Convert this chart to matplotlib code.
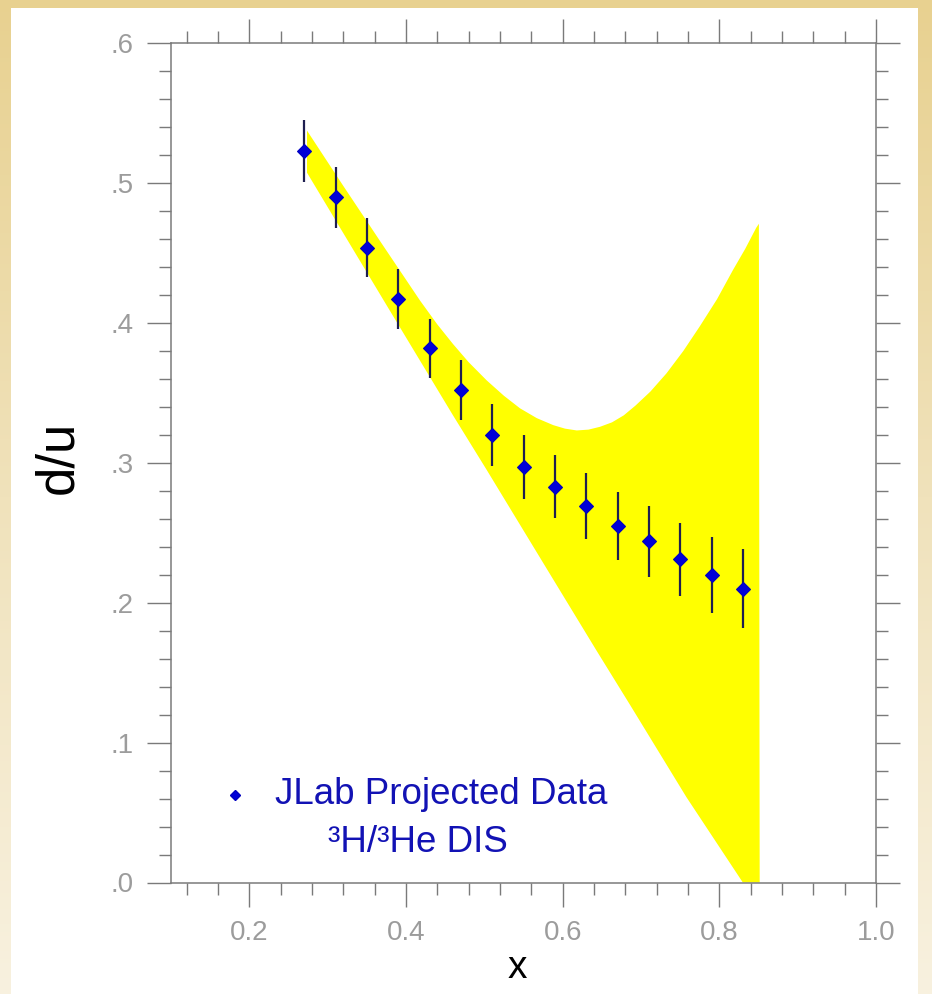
import numpy as np
import matplotlib
matplotlib.use("Agg")
import matplotlib.pyplot as plt
from matplotlib.colors import LinearSegmentedColormap
from matplotlib.patches import Rectangle
from matplotlib.ticker import MultipleLocator

plt.rcParams['font.family'] = ['Liberation Sans', 'DejaVu Sans']

# ---- data ----
x_data = [0.27, 0.31, 0.35, 0.39, 0.43, 0.47, 0.51, 0.55, 0.59, 0.63, 0.67, 0.71, 0.75, 0.79, 0.83]
y_data = [0.523, 0.490, 0.454, 0.417, 0.382, 0.352, 0.320, 0.297, 0.283, 0.269, 0.255, 0.244, 0.231, 0.220, 0.210]
y_err = [0.0224, 0.0218, 0.0213, 0.0215, 0.0212, 0.0213, 0.0222, 0.0226, 0.0227, 0.0236, 0.0245, 0.0253, 0.0261, 0.0270, 0.0283]

# band (yellow) upper and lower edges
band_up_x = [0.2736, 0.32, 0.37, 0.418, 0.44, 0.460, 0.48, 0.503, 0.525, 0.5456, 0.567, 0.588,
             0.603, 0.618, 0.633, 0.6476, 0.663, 0.678, 0.693, 0.712, 0.7325, 0.754, 0.775,
             0.797, 0.8175, 0.833, 0.847, 0.8505]
band_up_y = [0.5376, 0.498, 0.456, 0.416, 0.399, 0.385, 0.372, 0.359, 0.348, 0.339, 0.332, 0.327,
             0.3245, 0.3232, 0.3238, 0.3258, 0.329, 0.334, 0.341, 0.351, 0.364, 0.380, 0.3976,
             0.417, 0.438, 0.453, 0.468, 0.471]
band_lo_x = [0.2736, 0.376, 0.418, 0.460, 0.503, 0.580, 0.643, 0.686, 0.758, 0.830, 0.8515]
band_lo_y = [0.5075, 0.412, 0.373, 0.334, 0.295, 0.224, 0.166, 0.127, 0.061, 0.0, 0.0]

x_ticks = [0.2, 0.4, 0.6, 0.8, 1.0]
x_ticklabels = ["0.2", "0.4", "0.6", "0.8", "1.0"]
y_ticks = [0.0, 0.1, 0.2, 0.3, 0.4, 0.5, 0.6]
y_ticklabels = [".0", ".1", ".2", ".3", ".4", ".5", ".6"]

legend_line1 = "JLab Projected Data"
legend_line2 = "\u00b3H/\u00b3He DIS"

W, H = 932, 994
fig = plt.figure(figsize=(W / 100, H / 100), dpi=100)

# background gradient frame
bg = fig.add_axes([0, 0, 1, 1], zorder=-10)
cmap = LinearSegmentedColormap.from_list("frame", ["#e8d190", "#f0e2bb", "#f8f1df"])
grad = np.linspace(0, 1, 256).reshape(-1, 1)
bg.imshow(grad, aspect='auto', cmap=cmap, extent=[0, 1, 0, 1], origin='upper')
bg.add_patch(Rectangle((11 / W, 0), (918 - 11) / W, 1 - 8 / H, facecolor='white', edgecolor='none'))
bg.set_xlim(0, 1)
bg.set_ylim(0, 1)
bg.axis('off')

ax = fig.add_axes([171 / W, 1 - 882.5 / H, (876 - 171) / W, (882.5 - 43.3) / H])
ax.patch.set_alpha(0)

bx = np.concatenate([band_up_x, band_lo_x[::-1]])
by = np.concatenate([band_up_y, band_lo_y[::-1]])
ax.fill(bx, by, color='#ffff00', lw=0, zorder=1)

ax.errorbar(x_data, y_data, yerr=y_err, fmt='none', ecolor='#1e1e50', elinewidth=1.6, capsize=0, zorder=2)
ax.plot(x_data, y_data, linestyle='none', marker='D', markersize=6.8, color='#0000d8',
        markeredgecolor='#0000c0', markeredgewidth=0.8, zorder=3)

ax.set_xlim(0.1, 1.0)
ax.set_ylim(0.0, 0.6)

axis_col = '#7a7a7a'
for s in ax.spines.values():
    s.set_color(axis_col)
    s.set_linewidth(1.1)

ax.set_xticks(x_ticks)
ax.set_xticklabels(x_ticklabels)
ax.set_yticks(y_ticks)
ax.set_yticklabels(y_ticklabels)
ax.xaxis.set_minor_locator(MultipleLocator(0.04))
ax.yaxis.set_minor_locator(MultipleLocator(0.02))
ax.tick_params(which='both', direction='out', top=True, right=True, color=axis_col,
               width=1.0, labelcolor='#9c9c9c', labelsize=20)
ax.tick_params(which='major', length=17)
ax.tick_params(which='minor', length=8.5)
ax.tick_params(axis='x', which='major', pad=10)
ax.tick_params(axis='y', which='major', pad=10)

ax.set_ylabel("d/u", fontsize=38, color='black')
ax.yaxis.set_label_coords(-0.160, 0.506)
ax.yaxis.label.set_va('center')
ax.set_xlabel("x", fontsize=28, color='black')
ax.xaxis.set_label_coords(0.491, -0.1015)
ax.xaxis.label.set_va('center')

# legend (manual)
ax.plot([0.1817], [0.0626], linestyle='none', marker='D', markersize=5.0, color='#0000d8',
        markeredgecolor='#0000c0', zorder=3)
ax.text(0.2327, 0.0626, legend_line1, fontsize=26.5, color='#1212b4', ha='left', va='center')
ax.text(0.3004, 0.0283, legend_line2, fontsize=26.5, color='#1212b4', ha='left', va='center')

fig.savefig("out.png", dpi=100)
